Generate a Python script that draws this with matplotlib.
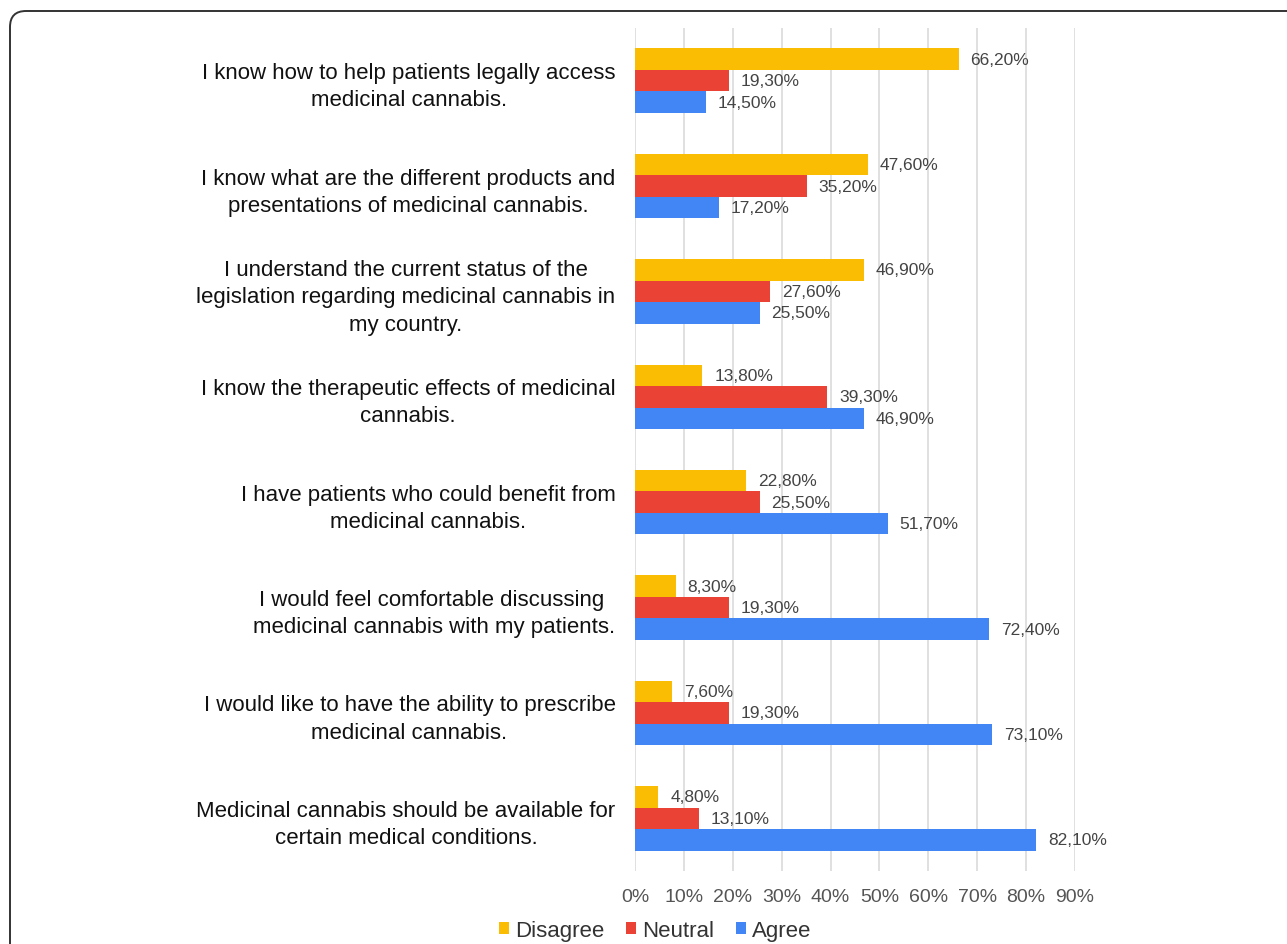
import numpy as np
import matplotlib.pyplot as plt
from matplotlib.patches import FancyBboxPatch
from matplotlib.transforms import IdentityTransform

plt.rcParams['font.family'] = ['Liberation Sans', 'DejaVu Sans']

statements = [
    "I know how to help patients legally access\nmedicinal cannabis.",
    "I know what are the different products and\npresentations of medicinal cannabis.",
    "I understand the current status of the\nlegislation regarding medicinal cannabis in\nmy country.",
    "I know the therapeutic effects of medicinal\ncannabis.",
    "I have patients who could benefit from\nmedicinal cannabis.",
    "I would feel comfortable discussing \nmedicinal cannabis with my patients.",
    "I would like to have the ability to prescribe\nmedicinal cannabis.",
    "Medicinal cannabis should be available for\ncertain medical conditions.",
]
disagree = [66.2, 47.6, 46.9, 13.8, 22.8, 8.3, 7.6, 4.8]
neutral = [19.3, 35.2, 27.6, 39.3, 25.5, 19.3, 19.3, 13.1]
agree = [14.5, 17.2, 25.5, 46.9, 51.7, 72.4, 73.1, 82.1]
series_names = ["Disagree", "Neutral", "Agree"]
colors = ["#FBBC04", "#EA4335", "#4285F4"]
xticks = np.arange(0, 100, 10)

fig = plt.figure(figsize=(12.87, 9.45), dpi=100)
ax = fig.add_axes([0.4934, 0.0772, 0.3419, 0.8921])

y = np.arange(len(statements))
h = 0.204
for k, (vals, name, c) in enumerate(zip([disagree, neutral, agree], series_names, colors)):
    pos = y + (k - 1) * h
    ax.barh(pos, vals, height=h, color=c, label=name, zorder=3)
    for p, v in zip(pos, vals):
        ax.text(v + 2.4, p, f"{v:.2f}%".replace(".", ","), va="center", ha="left",
                fontsize=12.5, color="#444444", zorder=4)

ax.set_xlim(0, 90)
ax.set_ylim(len(statements) - 0.5, -0.5)
ax.set_xticks(xticks)
ax.set_xticklabels([f"{t}%" for t in xticks], fontsize=14, color="#555555")
ax.set_yticks(y)
ax.set_yticklabels(statements, fontsize=16, color="#111111")
for lab in ax.get_yticklabels():
    lab.set_multialignment("center")
    lab.set_linespacing(1.38)
ax.tick_params(axis="y", length=0, pad=14)
ax.tick_params(axis="x", length=0, pad=12)
ax.grid(axis="x", color="#dddddd", linewidth=1.3, zorder=0)
for s in ax.spines.values():
    s.set_visible(False)

fig.legend(loc="center", bbox_to_anchor=(0.509, 0.0145), ncol=3, frameon=False,
           fontsize=16, handlelength=0.45, handleheight=0.45, handletextpad=0.25,
           columnspacing=1.0, labelcolor="#333333", borderpad=0.1)

# rounded frame around the panel
frame = FancyBboxPatch((10, -40), 1320, 973, boxstyle="round,pad=0,rounding_size=16",
                       transform=IdentityTransform(), facecolor="none",
                       edgecolor="#333333", linewidth=1.4)
fig.patches.append(frame)

fig.savefig("out.png", dpi=100)
